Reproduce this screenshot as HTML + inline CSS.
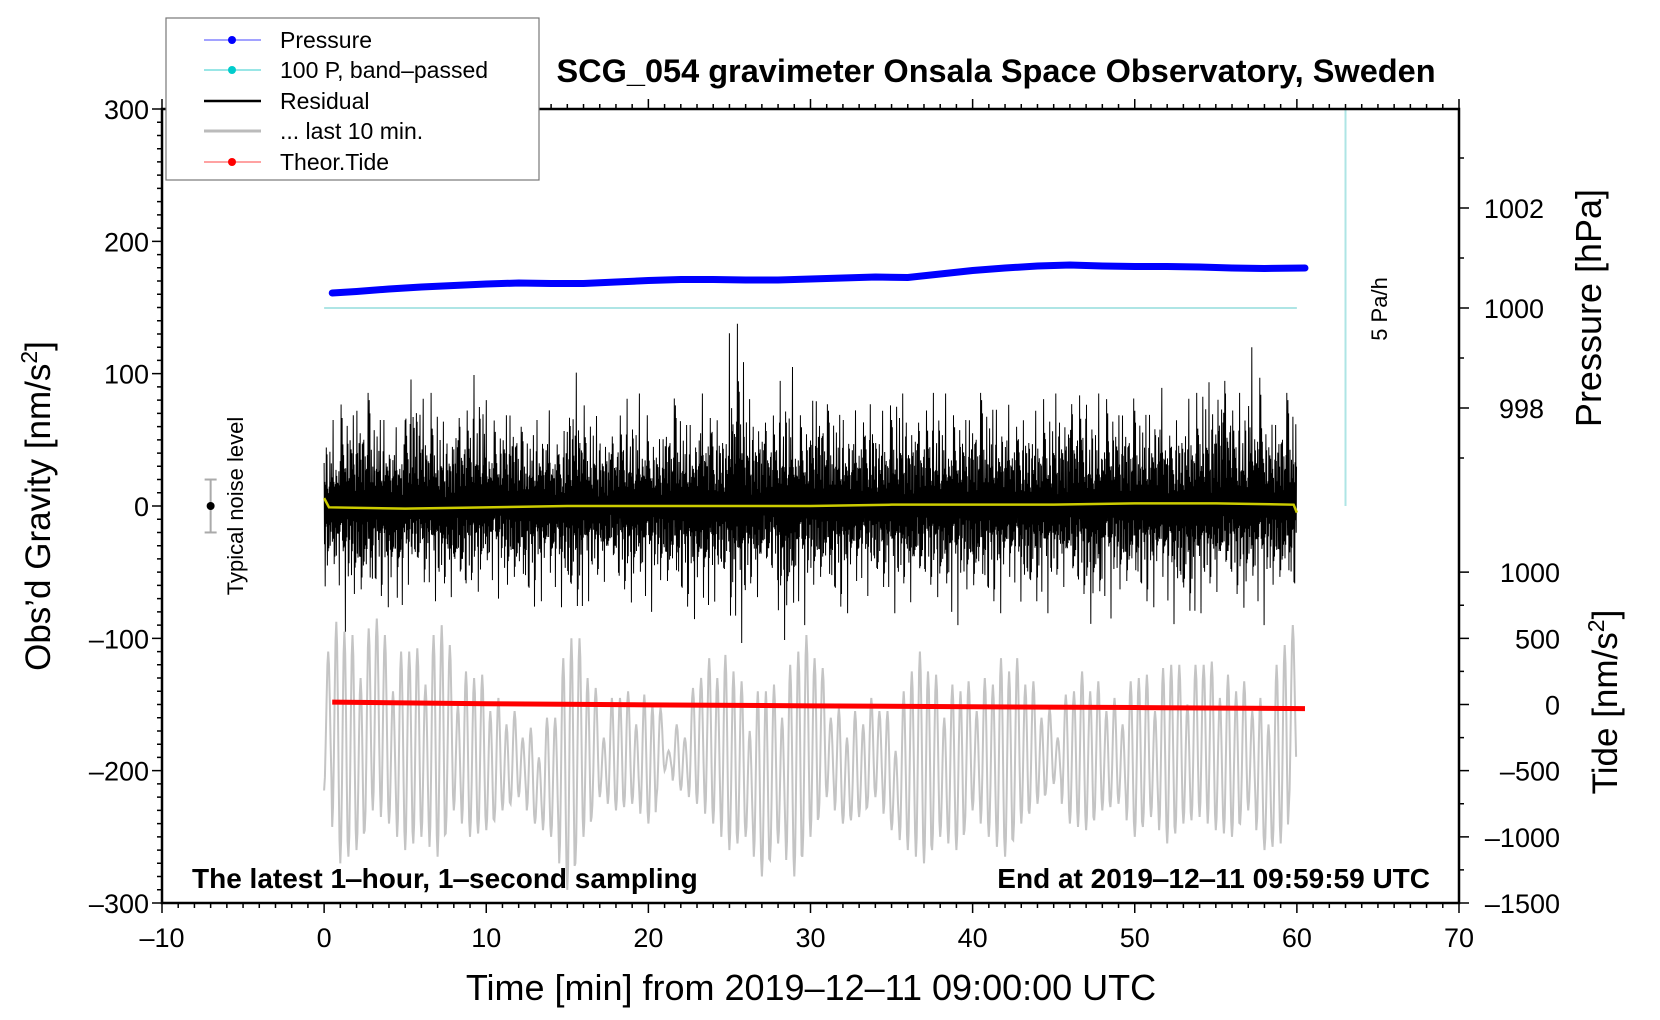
<!DOCTYPE html>
<html><head><meta charset="utf-8"><style>
html,body{margin:0;padding:0;background:#fff;}
svg{display:block;font-family:"Liberation Sans",sans-serif;}
</style></head><body>
<svg id="chart" width="1660" height="1020" viewBox="0 0 1660 1020" xmlns="http://www.w3.org/2000/svg">
<rect width="1660" height="1020" fill="#fff"/>
<g id="marks"></g>
<g id="axes"></g>
<text x="996" y="82" font-size="32.5" font-weight="bold" text-anchor="middle">SCG_054 gravimeter Onsala Space Observatory, Sweden</text>
<text x="192" y="888" font-size="28" font-weight="bold">The latest 1‒hour, 1‒second sampling</text>
<text x="1430" y="888" font-size="28" font-weight="bold" text-anchor="end">End at 2019‒12‒11 09:59:59 UTC</text>
<text x="811" y="1000" font-size="36" text-anchor="middle">Time [min] from 2019‒12‒11 09:00:00 UTC</text>
<text transform="translate(50,506) rotate(-90)" font-size="35" text-anchor="middle">Obs’d Gravity [nm/s<tspan dy="-13" font-size="23">2</tspan><tspan dy="13">]</tspan></text>
<text transform="translate(1601,308) rotate(-90)" font-size="36" text-anchor="middle">Pressure [hPa]</text>
<text transform="translate(1617,702) rotate(-90)" font-size="35" text-anchor="middle">Tide [nm/s<tspan dy="-13" font-size="23">2</tspan><tspan dy="13">]</tspan></text>
<text transform="translate(1387,309) rotate(-90)" font-size="22" text-anchor="middle">5 Pa/h</text>
<text transform="translate(243,506) rotate(-90)" font-size="22" text-anchor="middle">Typical noise level</text>
<g>
<rect x="166" y="18" width="373" height="162" fill="#fff" stroke="#777" stroke-width="1.2"/>
<g><line x1="204" y1="40" x2="261" y2="40" stroke="#44f" stroke-width="1"/><circle cx="232" cy="40" r="4" fill="#00f"/><text x="280" y="48" font-size="23">Pressure</text></g>
<g><line x1="204" y1="70" x2="261" y2="70" stroke="#3cc" stroke-width="1"/><circle cx="232" cy="70" r="4" fill="#0cc"/><text x="280" y="78" font-size="23">100 P, band‒passed</text></g>
<g><line x1="204" y1="101" x2="261" y2="101" stroke="#000" stroke-width="2.5"/><text x="280" y="109" font-size="23">Residual</text></g>
<g><line x1="204" y1="131" x2="261" y2="131" stroke="#bbb" stroke-width="3"/><text x="280" y="139" font-size="23">... last 10 min.</text></g>
<g><line x1="204" y1="162" x2="261" y2="162" stroke="#f44" stroke-width="1"/><circle cx="232" cy="162" r="4" fill="#f00"/><text x="280" y="170" font-size="23">Theor.Tide</text></g>
</g>
</svg>
<script>
// ---- data ----
const pressureMinutes = [0.5,2,4,6,8,10,12,14,16,18,20,22,24,26,28,30,32,34,36,38,40,42,44,46,48,50,52,54,56,58,60.5];
const pressureHpa = [1000.30,1000.33,1000.38,1000.42,1000.45,1000.48,1000.50,1000.49,1000.49,1000.52,1000.55,1000.57,1000.57,1000.56,1000.56,1000.58,1000.60,1000.62,1000.61,1000.68,1000.75,1000.80,1000.84,1000.86,1000.84,1000.83,1000.83,1000.82,1000.80,1000.79,1000.80];
const residualMax = [65,95,100,85,70,118,90,75,95,110,80,95,70,85,70,112,80,75,90,85,70,95,80,100,80,145,95,90,105,85,110,90,85,95,80,100,90,95,85,90,100,95,90,80,85,100,110,85,100,95,90,105,80,90,110,135,95,120,85,100,80];
const residualMin = [-75,-95,-100,-85,-110,-70,-80,-90,-100,-80,-70,-85,-95,-80,-90,-105,-80,-75,-90,-85,-80,-90,-95,-110,-85,-115,-90,-80,-125,-90,-85,-95,-90,-80,-85,-90,-95,-85,-100,-90,-95,-90,-85,-100,-90,-80,-95,-110,-85,-90,-90,-85,-105,-110,-90,-85,-95,-90,-85,-90,-70];
const yellowMinutes = [0,0.3,5,10,15,20,25,30,35,40,45,50,55,59.8,60];
const yellowVals = [6,-1,-2,-1,0,0,0,0,1,1,1,2,2,1,-5];
const grayHigh = [-110,-95,-130,-85,-140,-110,-135,-90,-150,-130,-155,-165,-175,-190,-160,-100,-130,-175,-145,-165,-150,-185,-175,-130,-130,-125,-170,-140,-160,-110,-115,-160,-175,-165,-155,-185,-125,-125,-160,-140,-155,-135,-125,-135,-160,-175,-140,-140,-155,-165,-130,-155,-120,-150,-120,-145,-140,-155,-165,-105,-105];
const grayLow = [-215,-270,-260,-230,-240,-260,-250,-265,-230,-250,-245,-230,-220,-240,-250,-290,-250,-220,-230,-225,-240,-200,-215,-225,-240,-260,-250,-280,-255,-280,-250,-220,-240,-235,-220,-245,-260,-270,-250,-260,-230,-250,-265,-240,-225,-210,-240,-245,-230,-225,-250,-235,-255,-240,-235,-245,-250,-230,-260,-255,-200];
const tideMinutes = [0.5,10,20,30,40,50,60.5];
const tideVals = [18,6,-3,-10,-17,-23,-31];
const xTicks = [-10,0,10,20,30,40,50,60,70];
const yTicks = [300,200,100,0,-100,-200,-300];
const pTicks = [1002,1000,998];
const tTicks = [1000,500,0,-500,-1000,-1500];
// ---- scales ----
const X0=162,X1=1459,Y0=109,Y1=903;
const sx = m => X0 + (m+10)/80*(X1-X0);
const sy = g => Y1 - (g+300)/600*(Y1-Y0);
const sp = p => 308 - (p-1000)*50;
const st = t => sy(t/10-150);
const NS='http://www.w3.org/2000/svg';
const marks=document.getElementById('marks'), axes=document.getElementById('axes');
function mk(tag,attrs,parent){const e=document.createElementNS(NS,tag);for(const k in attrs)e.setAttribute(k,attrs[k]);parent.appendChild(e);return e;}
let e=mk('line',{x1:sx(0),x2:sx(60),y1:sp(1000),y2:sp(1000),stroke:'#aee5e5','stroke-width':2},marks);


e=mk('line',{x1:sx(63),x2:sx(63),y1:Y0,y2:sy(0),stroke:'#aee5e5','stroke-width':2},marks);


let pts=[];
for(let i=0;i<60;i++){
  for(let c=0;c<2;c++){
    const hi=c===0?grayHigh[i]:(grayHigh[i]+grayHigh[i+1])/2+15;
    const lo=grayLow[i+c];
    const loPrev=c===0?grayLow[i]:(grayLow[i]+grayLow[i+1])/2;
    for(let k=0;k<10;k++){
      const ph=k/10;
      const m=i+c*0.5+ph*0.5;
      if(m>60)break;
      const a=(1-Math.cos(ph*2*Math.PI))/2;
      const base=ph<0.5?loPrev:lo;
      pts.push(sx(m).toFixed(1)+','+sy(base+(hi-base)*a).toFixed(1));
    }
  }
}
e=mk('polyline',{points:pts.join(' '),fill:'none',stroke:'#c4c4c4','stroke-width':2},marks);


const pat=[1,-0.55,0.7,-0.9,0.45,-0.6,0.85,-0.4,0.6,-1,0.5,-0.7,0.3,-0.5,0.75,-0.35,0.9,-0.8,0.4,-0.65,0.55,-0.3,0.95,-0.45,0.35];
const ampPat=[0.5,0.7,0.4,0.9,0.55,0.35,0.8,0.45,1,0.6,0.4,0.65,0.5,0.85,0.3,0.55,0.7];
pts=[];
let idx=0;
for(let i=0;i<60;i++){
  const n=45;
  for(let k=0;k<n;k++){
    const m=i+k/n;
    const f=pat[idx%pat.length];
    const amp=ampPat[idx%ampPat.length];
    idx++;
    const v=f>0?residualMax[i]*f*amp:-residualMin[i]*f*amp;
    pts.push(sx(m).toFixed(1)+','+sy(v).toFixed(1));
  }
}
e=mk('polyline',{points:pts.join(' '),fill:'none',stroke:'#000','stroke-width':1},marks);


e=mk('polyline',{points:yellowMinutes.map((m,i)=>sx(m)+','+sy(yellowVals[i])).join(' '),fill:'none',stroke:'#cccc00','stroke-width':2.5},marks);


e=mk('polyline',{points:tideMinutes.map((m,i)=>sx(m)+','+st(tideVals[i])).join(' '),fill:'none',stroke:'#f00','stroke-width':5},marks);


e=mk('polyline',{points:pressureMinutes.map((m,i)=>sx(m)+','+sp(pressureHpa[i])).join(' '),fill:'none',stroke:'#00f','stroke-width':7,'stroke-linecap':'round'},marks);


const ng=mk('g',{},marks);


mk('line',{x1:sx(-7),x2:sx(-7),y1:sy(20),y2:sy(-20),stroke:'#aaa','stroke-width':2},ng);
mk('line',{x1:sx(-7)-6,x2:sx(-7)+6,y1:sy(20),y2:sy(20),stroke:'#aaa','stroke-width':2},ng);
mk('line',{x1:sx(-7)-6,x2:sx(-7)+6,y1:sy(-20),y2:sy(-20),stroke:'#aaa','stroke-width':2},ng);
mk('circle',{cx:sx(-7),cy:sy(0),r:4,fill:'#000'},ng);
e=mk('rect',{x:X0,y:Y0,width:X1-X0,height:Y1-Y0,fill:'none',stroke:'#000','stroke-width':2.5},axes);


let tk='';
for(let m=-10;m<=70;m++){const L=m%10===0?10:5;tk+=`M${sx(m)},${Y1}v${L}M${sx(m)},${Y0}v${-L}`;}
for(let g=-300;g<=300;g+=10){const L=g%100===0?10:5;tk+=`M${X0},${sy(g)}h${-L}`;}
for(let p=998;p<=1003;p++){const L=p%2===0?10:5;tk+=`M${X1},${sp(p)}h${L}`;}
tk+=`M${X1},${sp(997)}h5`;
for(let t=-1500;t<=1000;t+=250){const L=t%500===0?10:5;tk+=`M${X1},${st(t)}h${L}`;}
e=mk('path',{d:tk,stroke:'#000','stroke-width':1.5,fill:'none'},axes);


function lbl(x,y,s,anchor,name){const t=mk('text',{x:x,y:y,'font-size':27,'text-anchor':anchor},axes);t.textContent=s;}
xTicks.forEach(v=>lbl(sx(v),947,String(v).replace('-','–'),'middle','x-tick-label'));
yTicks.forEach(v=>lbl(X0-13,sy(v)+10,String(v).replace('-','–'),'end','y-tick-label'));
pTicks.forEach(v=>lbl(1544,sp(v)+10,String(v),'end','pressure-tick-label'));
tTicks.forEach(v=>lbl(1560,st(v)+10,String(v).replace('-','–'),'end','tide-tick-label'));
</script>
</body></html>
